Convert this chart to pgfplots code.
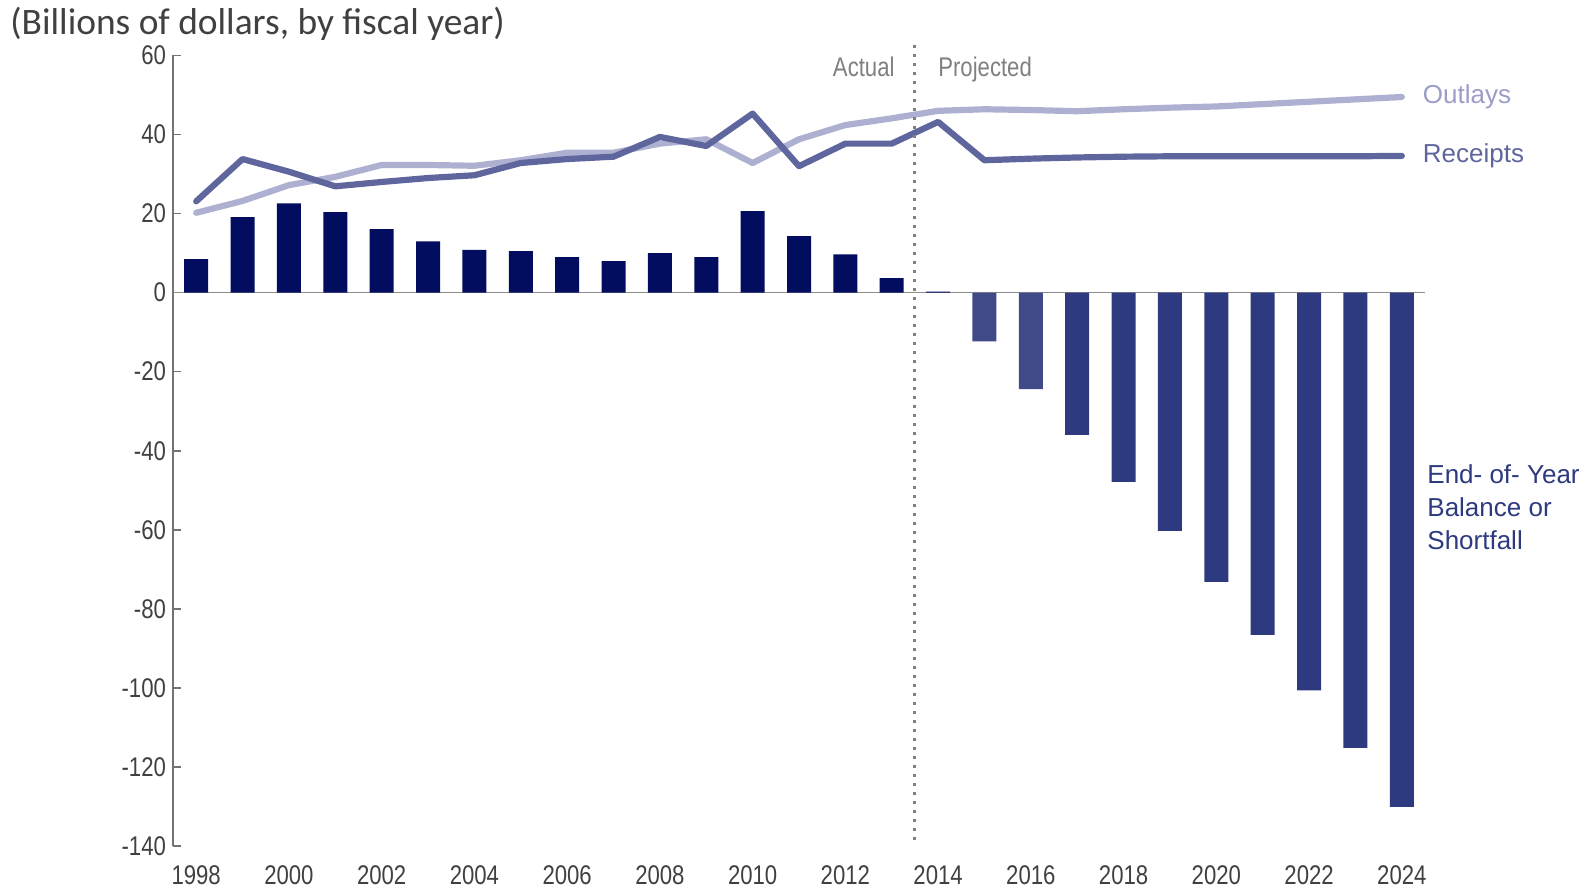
\documentclass[border=0pt]{standalone}
\usepackage{pgfplots}
\pgfplotsset{compat=1.18}
\usepackage{fontspec}
\setmainfont{Liberation Sans}
\newfontfamily\tickfont{Liberation Sans}[FakeStretch=0.82]
\newfontfamily\titlefont{Carlito}

\definecolor{navy}{HTML}{020D5F}
\definecolor{projlight}{HTML}{414A89}
\definecolor{projdark}{HTML}{2E3A7F}
\definecolor{receipts}{HTML}{5F669E}
\definecolor{outlays}{HTML}{ADB0D0}
\definecolor{outlaystext}{HTML}{9A9DC8}
\definecolor{axisgray}{HTML}{808080}
\definecolor{textgray}{HTML}{404040}

\begin{document}
\begin{tikzpicture}
\path[use as bounding box] (-86.5pt,-21.5pt) rectangle (706pt,423pt);
\begin{axis}[
    at={(0,0)}, anchor=south west,
    scale only axis,
    width=626pt, height=395.25pt,
    xmin=1997.5, xmax=2024.5,
    ymin=-140, ymax=60,
    clip=false,
    axis y line*=left,
    axis x line*=bottom,
    x axis line style={draw=none},
    y axis line style={draw=axisgray!90!black, line width=0.8pt},
    xtick={1998,2000,...,2024},
    xticklabels={1998,2000,2002,2004,2006,2008,2010,2012,2014,2016,2018,2020,2022,2024},
    xtick style={draw=none},
    ytick={-140,-120,...,60},
    yticklabels={-140,-120,-100,-80,-60,-40,-20,0,20,40,60},
    ytick style={draw=axisgray!90!black, line width=0.8pt},
    tick align=inside,
    major tick length=4pt,
    ticklabel style={font=\tickfont\fontsize{13.5}{15}\selectfont, text=textgray},
    xticklabel style={anchor=base, yshift=-19pt},
    extra y ticks={0},
    extra y tick labels={},
    extra y tick style={grid=major, major grid style={draw=axisgray!90, line width=0.85pt}, major tick length=0pt},
]

% actual balances
\addplot[ybar, bar shift=0pt, bar width=12pt, fill=navy, draw=none] coordinates {
  (1998,8.5) (1999,19.1) (2000,22.6) (2001,20.4) (2002,16.1) (2003,13.0)
  (2004,10.8) (2005,10.5) (2006,9.0) (2007,8.0) (2008,10.0) (2009,9.0)
  (2010,20.6) (2011,14.3) (2012,9.7) (2013,3.7) (2014,0.25)};
% projected
\addplot[ybar, bar shift=0pt, bar width=12pt, fill=projlight, draw=none] coordinates {
  (2015,-12.3) (2016,-24.4)};
\addplot[ybar, bar shift=0pt, bar width=12pt, fill=projdark, draw=none] coordinates {
  (2017,-36.0) (2018,-47.9) (2019,-60.3) (2020,-73.2) (2021,-86.6)
  (2022,-100.6) (2023,-115.2) (2024,-130.1)};

\addplot[draw=outlays, line width=3.1pt, line cap=round, line join=round, mark=none] coordinates {
  (1998,20.2) (1999,23.2) (2000,27.2) (2001,29.3) (2002,32.3) (2003,32.3)
  (2004,32.1) (2005,33.5) (2006,35.4) (2007,35.4) (2008,37.7) (2009,38.8)
  (2010,32.8) (2011,38.8) (2012,42.4) (2013,44.1) (2014,46.0) (2015,46.4)
  (2016,46.2) (2017,45.9) (2018,46.4) (2019,46.8) (2020,47.1) (2021,47.7)
  (2022,48.3) (2023,48.9) (2024,49.5)}
  node[pos=1, anchor=west, inner sep=0pt, xshift=9pt, text=outlaystext, font=\fontsize{13}{15}\selectfont] {Outlays};

\addplot[draw=receipts, line width=3.1pt, line cap=round, line join=round, mark=none] coordinates {
  (1998,23.1) (1999,33.8) (2000,30.6) (2001,26.9) (2002,28.0) (2003,29.0)
  (2004,29.7) (2005,32.8) (2006,33.8) (2007,34.4) (2008,39.4) (2009,37.1)
  (2010,45.3) (2011,32.0) (2012,37.7) (2013,37.7) (2014,43.2) (2015,33.5)
  (2016,33.9) (2017,34.2) (2018,34.4) (2019,34.5) (2020,34.5) (2021,34.5)
  (2022,34.5) (2023,34.5) (2024,34.6)}
  node[pos=1, anchor=west, inner sep=0pt, xshift=9pt, text=receipts, font=\fontsize{13}{15}\selectfont] {Receipts};

\draw[axisgray, line width=1.5pt, dash pattern=on 1.5pt off 3pt] (axis cs:2013.5,62.6) -- (axis cs:2013.5,-139.5);
\node[anchor=base east, inner sep=0pt, xshift=-10pt, text=axisgray, font=\tickfont\fontsize{13.5}{15}\selectfont] at (axis cs:2013.5,54.7) {Actual};
\node[anchor=base west, inner sep=0pt, xshift=11.5pt, text=axisgray, font=\tickfont\fontsize{13.5}{15}\selectfont] at (axis cs:2013.5,54.7) {Projected};

\node[anchor=west, align=left, inner sep=0pt, xshift=1pt, text=projdark, font=\fontsize{13}{16.5}\selectfont] at (axis cs:2024.5,-54.3) {End- of- Year\\Balance or\\Shortfall};
\end{axis}
\node[anchor=base west, inner sep=0pt, text=textgray, font=\titlefont\fontsize{18.7}{20}\selectfont] at (-81.5pt,405.5pt) {(Billions of dollars, by fiscal year)};
\end{tikzpicture}
\end{document}
